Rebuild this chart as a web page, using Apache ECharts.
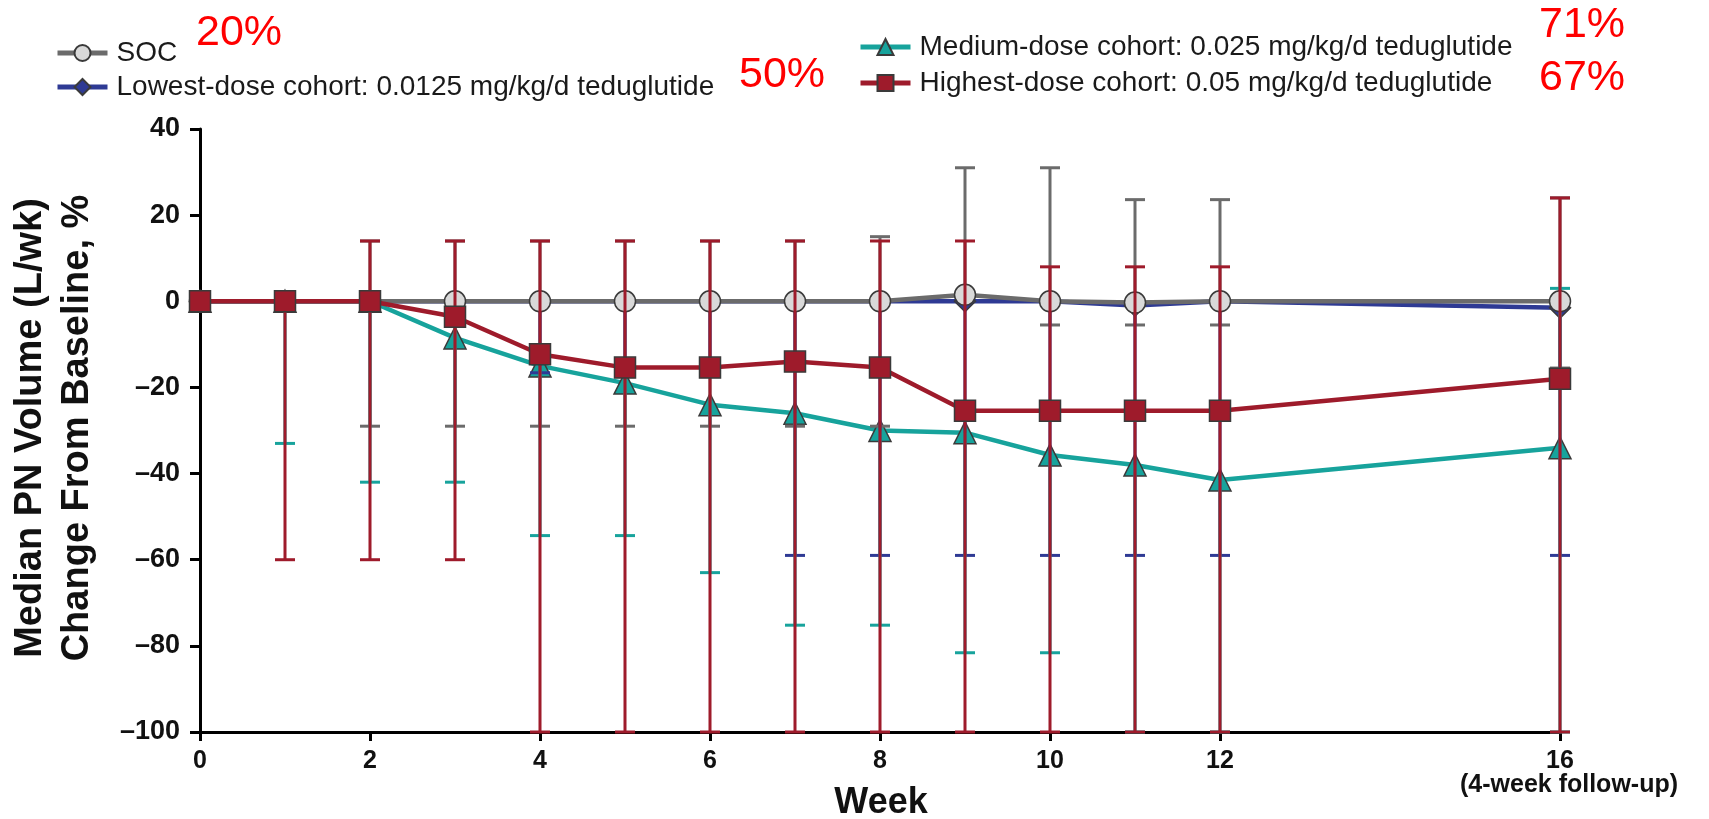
<!DOCTYPE html>
<html>
<head>
<meta charset="utf-8">
<script src="https://cdn.jsdelivr.net/npm/echarts@6/dist/echarts.min.js"></script>
<style>
html, body { margin: 0; padding: 0; background: #fff; }
#chart { width: 1709px; height: 819px; }
</style>
</head>
<body>
<div id="chart"></div>
<script>
// weeks on the x axis
const weeks = [0, 1, 2, 3, 4, 5, 6, 7, 8, 9, 10, 11, 12, 16]
const xTickValues = [0, 2, 4, 6, 8, 10, 12, 16]

// median change from baseline, %
const socMedian = [0, 0, 0, 0, 0, 0, 0, 0, 0, 1.5, 0, -0.3, 0, 0]
const lowestMedian = [0, 0, 0, 0, 0, 0, 0, 0, 0, 0, 0, -1, 0, -1.5]
const mediumMedian = [0, 0, 0, -8.5, -15, -19, -24, -26, -30, -30.5, -35.7, -38, -41.5, -34]
const highestMedian = [0, 0, 0, -3.6, -12.3, -15.4, -15.4, -14, -15.4, -25.4, -25.4, -25.4, -25.4, -18]

// error bar ends (null = not shown)
const socLow = [null, null, -29, -29, -29, -29, -29, -29, -29, null, -5.5, -5.5, -5.5, -15.5]
const socHigh = [null, null, 14, 14, 14, 14, 14, 14, 15, 31, 31, 23.6, 23.6, 24]
const lowestLow = [null, null, null, null, -16.6, -16.6, -16.6, -59, -59, -59, -59, -59, -59, -59]
const lowestHigh = [null, null, null, null, null, null, null, null, null, null, null, null, null, null]
const mediumLow = [null, -33, -42, -42, -54.4, -54.4, -63, -75.2, -75.2, -81.6, -81.6, -100, -100, -100]
const mediumHigh = [null, null, null, null, null, null, null, null, null, null, null, null, null, 3]
const highestLow = [null, -60, -60, -60, -100, -100, -100, -100, -100, -100, -100, -100, -100, -100]
const highestHigh = [null, null, 14, 14, 14, 14, 14, 14, 14, 14, 8, 8, 8, 24]

// response annotations
const socPct = '20%'
const lowestPct = '50%'
const mediumPct = '71%'
const highestPct = '67%'

const names = [
  'SOC',
  'Lowest-dose cohort: 0.0125 mg/kg/d teduglutide',
  'Medium-dose cohort: 0.025 mg/kg/d teduglutide',
  'Highest-dose cohort: 0.05 mg/kg/d teduglutide'
]
const colors = ['#6b6b6b', '#2e3a94', '#17a39c', '#9e1b2b']

const chart = echarts.init(document.getElementById('chart'))

function lineSeries (name, values, color, symbol, symbolSize, fill, z) {
  return {
    name: name,
    type: 'line',
    z: z,
    data: weeks.map((w, i) => [w, values[i]]),
    symbol: symbol,
    symbolSize: symbolSize,
    lineStyle: { color: color, width: 4.5 },
    itemStyle: { color: fill, borderColor: '#3a3a3a', borderWidth: 1.5 },
    emphasis: { disabled: true }
  }
}

function errorSeries (values, low, high, color, z) {
  const data = weeks.map((w, i) => [
    w,
    low[i] === null ? values[i] : low[i],
    high[i] === null ? values[i] : high[i],
    low[i] === null ? 0 : 1,
    high[i] === null ? 0 : 1
  ])
  return {
    type: 'custom',
    z: z,
    silent: true,
    data: data,
    renderItem: function (params, api) {
      const lo = api.coord([api.value(0), api.value(1)])
      const hi = api.coord([api.value(0), api.value(2)])
      const style = { stroke: color, lineWidth: 3 }
      const children = [{
        type: 'line',
        shape: { x1: lo[0], y1: lo[1], x2: hi[0], y2: hi[1] },
        style: style
      }]
      if (api.value(3)) {
        children.push({ type: 'line', shape: { x1: lo[0] - 10, y1: lo[1], x2: lo[0] + 10, y2: lo[1] }, style: style })
      }
      if (api.value(4)) {
        children.push({ type: 'line', shape: { x1: hi[0] - 10, y1: hi[1], x2: hi[0] + 10, y2: hi[1] }, style: style })
      }
      return { type: 'group', children: children }
    }
  }
}

const legendText = { fontFamily: 'Liberation Sans', fontSize: 28, color: '#1a1a1a', lineHeight: 28, padding: [0, 0, 0, 4] }

const option = {
  animation: false,
  textStyle: { fontFamily: 'Liberation Sans' },
  legend: [
    {
      data: [names[0], names[1]],
      orient: 'vertical',
      left: 50,
      top: 34,
      itemWidth: 50,
      itemHeight: 20,
      itemGap: 6,
      lineStyle: { width: 5 },
      textStyle: legendText
    },
    {
      data: [names[2], names[3]],
      orient: 'vertical',
      left: 853,
      top: 28,
      itemWidth: 50,
      itemHeight: 20,
      itemGap: 8,
      lineStyle: { width: 5 },
      textStyle: legendText
    }
  ],
  grid: { left: 200, right: 149, top: 129, bottom: 87 },
  xAxis: {
    type: 'value',
    min: 0,
    max: 16,
    interval: 2,
    axisLine: { onZero: false, lineStyle: { color: '#000', width: 3 } },
    axisTick: { customValues: xTickValues, length: 9, lineStyle: { width: 3, color: '#000' } },
    axisLabel: {
      customValues: xTickValues,
      margin: 17,
      fontSize: 25,
      fontWeight: 'bold',
      color: '#111'
    },
    splitLine: { show: false }
  },
  yAxis: {
    type: 'value',
    min: -100,
    max: 40,
    interval: 20,
    axisLine: { show: true, lineStyle: { color: '#000', width: 3 } },
    axisTick: { show: true, length: 10, lineStyle: { width: 3, color: '#000' } },
    axisLabel: {
      margin: 20,
      fontSize: 27,
      fontWeight: 'bold',
      color: '#111',
      formatter: v => (v < 0 ? '\u2013' + (-v) : String(v))
    },
    splitLine: { show: false }
  },
  graphic: [
    { type: 'text', x: 31, y: 428, rotation: Math.PI / 2, style: { text: 'Median PN Volume (L/wk)', font: 'bold 38px "Liberation Sans"', fill: '#111', textAlign: 'center', textVerticalAlign: 'middle' } },
    { type: 'text', x: 78, y: 428, rotation: Math.PI / 2, style: { text: 'Change From Baseline, %', font: 'bold 38px "Liberation Sans"', fill: '#111', textAlign: 'center', textVerticalAlign: 'middle' } },
    { type: 'text', x: 881, y: 803, style: { text: 'Week', font: 'bold 36px "Liberation Sans"', fill: '#111', textAlign: 'center', textVerticalAlign: 'middle' } },
    { type: 'text', x: 1569, y: 785, style: { text: '(4-week follow-up)', font: 'bold 25px "Liberation Sans"', fill: '#111', textAlign: 'center', textVerticalAlign: 'middle' } },
    { type: 'text', x: 196, y: 33, style: { text: socPct, font: '43px "Liberation Sans"', fill: '#ff0000', textAlign: 'left', textVerticalAlign: 'middle' } },
    { type: 'text', x: 739, y: 75, style: { text: lowestPct, font: '43px "Liberation Sans"', fill: '#ff0000', textAlign: 'left', textVerticalAlign: 'middle' } },
    { type: 'text', x: 1539, y: 25, style: { text: mediumPct, font: '43px "Liberation Sans"', fill: '#ff0000', textAlign: 'left', textVerticalAlign: 'middle' } },
    { type: 'text', x: 1539, y: 78, style: { text: highestPct, font: '43px "Liberation Sans"', fill: '#ff0000', textAlign: 'left', textVerticalAlign: 'middle' } }
  ],
  series: [
    lineSeries(names[1], lowestMedian, colors[1], 'diamond', 21, colors[1], 2),
    lineSeries(names[2], mediumMedian, colors[2], 'triangle', 22, colors[2], 2),
    lineSeries(names[0], socMedian, colors[0], 'circle', 21, '#d9d9d9', 3),
    lineSeries(names[3], highestMedian, colors[3], 'rect', 21, colors[3], 5),
    errorSeries(socMedian, socLow, socHigh, colors[0], 3),
    errorSeries(lowestMedian, lowestLow, lowestHigh, colors[1], 3),
    errorSeries(mediumMedian, mediumLow, mediumHigh, colors[2], 3),
    errorSeries(highestMedian, highestLow, highestHigh, colors[3], 4)
  ]
}

chart.setOption(option)
</script>
</body>
</html>
